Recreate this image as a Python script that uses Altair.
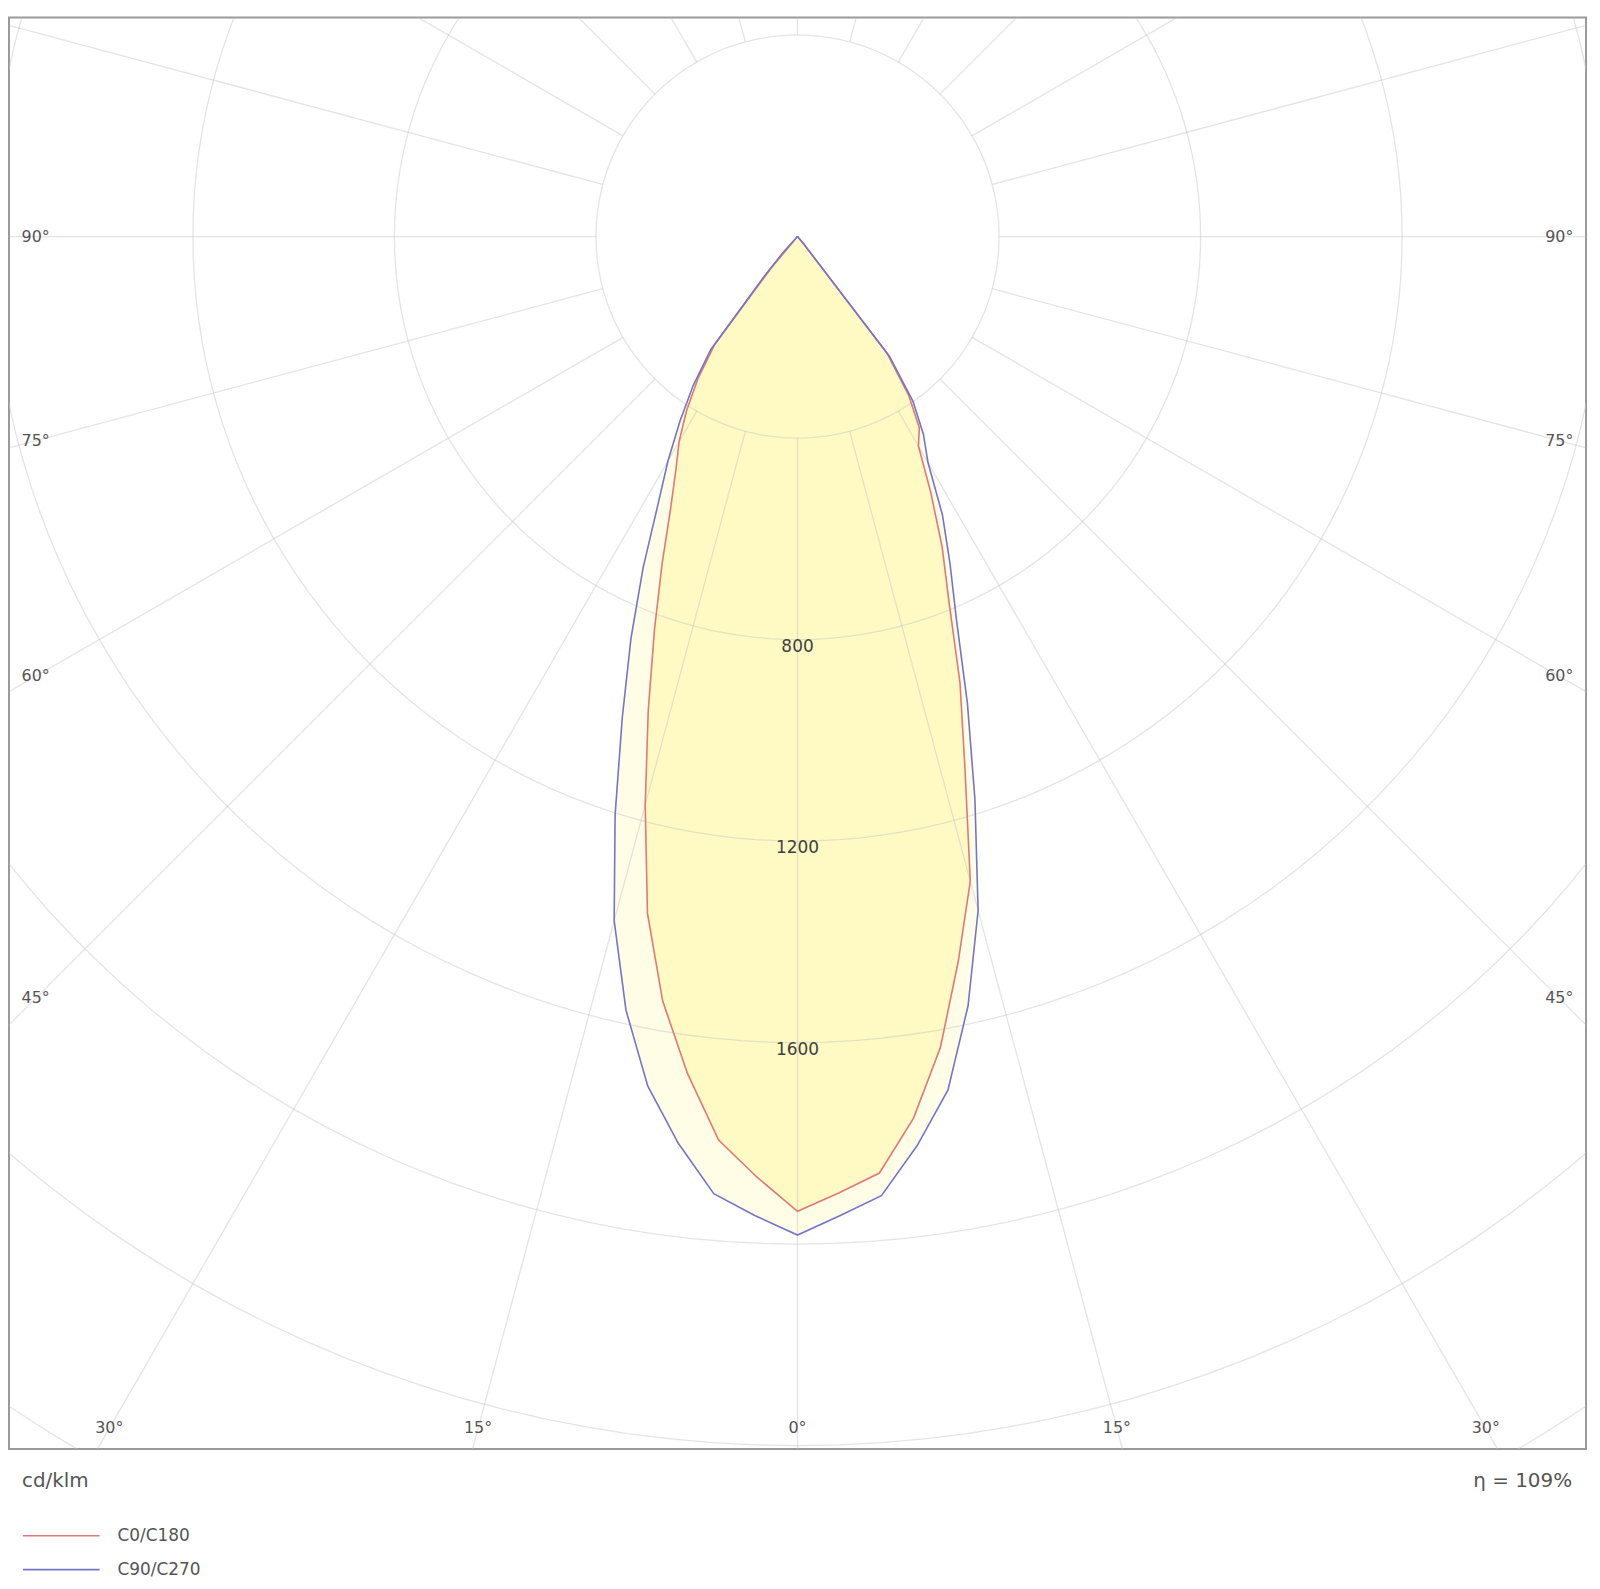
import altair as alt
import pandas as pd

# ---------------- data ----------------
gamma = [0, 2.5, 5, 7.5, 10, 12.5, 15, 17.5, 20, 22.5, 25, 27.5, 30, 32.5, 35, 37.5, 40, 42.5, 45]
# C0 (right) / C180 (left) in cd/klm
c0 = [1935, 1900, 1866, 1765, 1634, 1474, 1325, 1105, 943, 786, 679, 573, 480, 450, 385, 292, 20, 0, 0]
c180 = [1935, 1868, 1800, 1675, 1541, 1376, 1168, 985, 830, 702, 596, 523, 470, 410, 345, 270, 80, 0, 0]
# C90 (right) / C270 (left)
c90 = [1982, 1945, 1911, 1820, 1720, 1564, 1385, 1171, 986, 825, 716, 623, 518, 465, 400, 300, 20, 0, 0]
c270 = [1982, 1945, 1907, 1815, 1712, 1573, 1406, 1204, 1017, 864, 725, 600, 514, 434, 361, 283, 100, 40, 0]

series_names = ["C0/C180", "C90/C270"]
series_colors = ["#e07878", "#7474cc"]
fill_colors = ["#fffac4", "#fffde6"]

grid_radii = [400, 800, 1200, 1600, 2000, 2400, 2800, 3200]
grid_angles = list(range(0, 360, 15))
circle_steps = list(range(0, 361, 2))
radial_inner = 400
radial_outer = 3400

value_labels = [800, 1200, 1600]
side_label_angles = [45, 60, 75, 90]
bottom_label_angles = [0, 15, 30]
unit_text = "cd/klm"
eta_text = "η = 109%"

FONT = "DejaVu Sans"

# ---------------- tables built from the arrays ----------------
rows = []
for name, left, right in [(series_names[0], c180, c0), (series_names[1], c270, c90)]:
    k = 0
    for g, v in zip(reversed(gamma), reversed(left)):
        rows.append({"series": name, "gamma": g, "I": v, "side": -1, "k": k})
        k += 1
    for g, v in zip(gamma, right):
        rows.append({"series": name, "gamma": g, "I": v, "side": 1, "k": k})
        k += 1
curve = pd.DataFrame(rows)

circles = pd.DataFrame([{"r": r, "t": t} for r in grid_radii for t in circle_steps])
radials = pd.DataFrame({"a": grid_angles})
vlabels = pd.DataFrame({"v": value_labels})
side_lab = pd.DataFrame([{"a": a, "side": s} for a in side_label_angles for s in (-1, 1)])
bottom_lab = pd.DataFrame([{"a": a, "side": s} for a in bottom_label_angles
                           for s in ((1,) if a == 0 else (-1, 1))])

xscale = alt.Scale(domain=[-1565, 1565], nice=False, zero=False)
yscale = alt.Scale(domain=[-2407, 435], nice=False, zero=False)
X = alt.X("x:Q", scale=xscale, axis=None)
Y = alt.Y("y:Q", scale=yscale, axis=None)

RAD = "PI/180"


def polar(chart, r, ang, side=None):
    sx = f"{side}*" if side else ""
    return chart.transform_calculate(
        x=f"{sx}{r}*sin({ang}*{RAD})",
        y=f"-{r}*cos({ang}*{RAD})",
    )


layers = []

# fills (outer C90/C270 first, then C0/C180)
for name, fc in [(series_names[1], fill_colors[1]), (series_names[0], fill_colors[0])]:
    base = alt.Chart(curve).transform_filter(alt.datum.series == name)
    layers.append(
        polar(base, "datum.I", "datum.gamma", "datum.side")
        .mark_line(fill=fc, strokeWidth=0, clip=True)
        .encode(x=X, y=Y, order="k:Q")
    )

# grid circles
layers.append(
    polar(alt.Chart(circles), "datum.r", "datum.t")
    .mark_line(stroke="#c4c4c4", strokeWidth=1.3, opacity=0.45, clip=True)
    .encode(x=X, y=Y, detail="r:N", order="t:Q")
)

# radial lines
layers.append(
    alt.Chart(radials)
    .transform_calculate(
        x=f"{radial_inner}*sin(datum.a*{RAD})",
        y=f"-{radial_inner}*cos(datum.a*{RAD})",
        x2=f"{radial_outer}*sin(datum.a*{RAD})",
        y2=f"-{radial_outer}*cos(datum.a*{RAD})",
    )
    .mark_rule(stroke="#c4c4c4", strokeWidth=1.3, opacity=0.45, clip=True)
    .encode(x=X, y=Y, x2="x2:Q", y2="y2:Q")
)

# curves
layers.append(
    polar(alt.Chart(curve), "datum.I", "datum.gamma", "datum.side")
    .mark_line(strokeWidth=1.6, clip=True)
    .encode(
        x=X, y=Y, order="k:Q",
        color=alt.Color("series:N", scale=alt.Scale(domain=series_names, range=series_colors), legend=None),
    )
)

# intensity labels on the 0° axis
layers.append(
    alt.Chart(vlabels)
    .transform_calculate(x="0", y="-datum.v", label="datum.v + ''")
    .mark_text(font=FONT, fontSize=17, color="#404040", baseline="middle", align="center", dy=7)
    .encode(x=X, y=Y, text="label:N")
)

# angle labels on the sides
layers.append(
    alt.Chart(side_lab)
    .transform_calculate(
        x="datum.side*1512",
        y="-1512/tan(datum.a*PI/180)",
        label="datum.a + '°'",
    )
    .mark_text(font=FONT, fontSize=16, color="#555555", baseline="middle", align="center")
    .encode(x=X, y=Y, text="label:N")
)

# angle labels at the bottom
layers.append(
    alt.Chart(bottom_lab)
    .transform_calculate(
        x="datum.side*2366*tan(datum.a*PI/180)",
        y="-2366",
        label="datum.a + '°'",
    )
    .mark_text(font=FONT, fontSize=16, color="#555555", baseline="middle", align="center")
    .encode(x=X, y=Y, text="label:N")
)

# annotations below the frame
one = pd.DataFrame({"t": [0]})
layers.append(
    alt.Chart(one).mark_text(font=FONT, fontSize=20, color="#555555", align="left", baseline="middle",
                             text=unit_text)
    .encode(x=alt.value(13), y=alt.value(1470))
)
layers.append(
    alt.Chart(one).mark_text(font=FONT, fontSize=20, color="#555555", align="right", baseline="middle",
                             text=eta_text)
    .encode(x=alt.value(1570), y=alt.value(1470))
)

# legend
for i, (name, col) in enumerate(zip(series_names, series_colors)):
    ly = 1525 + i * 34
    layers.append(
        alt.Chart(one).mark_rule(color=col, strokeWidth=1.6)
        .encode(x=alt.value(14), x2=alt.value(91), y=alt.value(ly))
    )
    layers.append(
        alt.Chart(one).mark_text(font=FONT, fontSize=17, color="#555555", align="left", baseline="middle",
                                 text=name)
        .encode(x=alt.value(109), y=alt.value(ly))
    )

chart = (
    alt.layer(*layers)
    .properties(width=1584, height=1438, padding={"left": 1, "top": 6, "right": 6, "bottom": 6},
                background="white")
    .configure_view(stroke="#9a9a9a", strokeWidth=2)
)

chart.save("out.html", embed_options={"renderer": "svg", "actions": False})
